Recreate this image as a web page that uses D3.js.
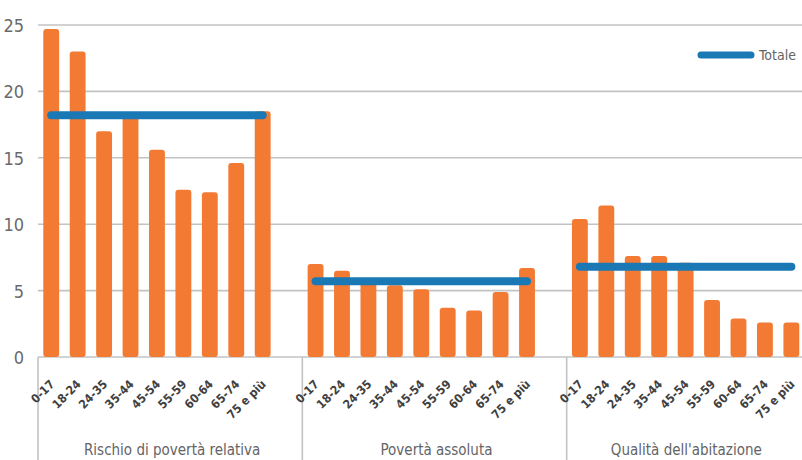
<!DOCTYPE html>
<html>
<head>
<meta charset="utf-8">
<script src="https://cdn.jsdelivr.net/npm/d3@7"></script>
<style>
  html, body { margin: 0; padding: 0; background: #fff; }
  svg { display: block; font-family: "Liberation Sans Narrow", "DejaVu Sans Condensed", sans-serif; }
</style>
</head>
<body>
<div id="chart"></div>
<script>
// --- Data ---
const groups = ["Rischio di povertà relativa", "Povertà assoluta", "Qualità dell'abitazione"];
const ageClasses = ["0-17", "18-24", "24-35", "35-44", "45-54", "55-59", "60-64", "65-74", "75 e più"];
const valuesRelativa = [24.7, 23.0, 17.0, 18.2, 15.6, 12.6, 12.4, 14.6, 18.5];
const valuesAssoluta = [7.0, 6.5, 5.9, 5.4, 5.1, 3.7, 3.5, 4.9, 6.7];
const valuesAbitazione = [10.4, 11.4, 7.6, 7.6, 7.1, 4.3, 2.9, 2.6, 2.6];
const totals = [18.2, 5.7, 6.8];
const yTicks = [0, 5, 10, 15, 20, 25];

const seriesValues = [valuesRelativa, valuesAssoluta, valuesAbitazione];

const width = 802, height = 460;
const margin = { top: 25, left: 38, bottom: 103 };
const plotRight = 831; // the last group runs past the picture edge
const baseY = height - margin.bottom;

const orange = "#f37a32";
const blue = "#1a79b5";
const grid = "#c3c3c3";

const svg = d3.select("#chart").append("svg")
  .attr("width", width)
  .attr("height", height);

// each group: 9 age classes plus one empty slot
const slotKeys = [];
groups.forEach((g, gi) => {
  ageClasses.forEach(a => slotKeys.push(gi + "|" + a));
  slotKeys.push(gi + "|");
});

const xScale = d3.scaleBand()
  .domain(slotKeys)
  .range([margin.left, plotRight])
  .paddingInner(0.4)
  .paddingOuter(0.2);

const yScale = d3.scaleLinear()
  .domain([0, 25])
  .range([baseY, margin.top]);

const bars = [];
seriesValues.forEach((vals, gi) => {
  vals.forEach((v, i) => bars.push({ gi, age: ageClasses[i], value: v }));
});

// --- Grid lines ---
svg.append("g")
  .selectAll("line")
  .data(yTicks)
  .join("line")
  .attr("x1", margin.left)
  .attr("x2", width)
  .attr("y1", d => yScale(d))
  .attr("y2", d => yScale(d))
  .attr("stroke", grid)
  .attr("stroke-width", 1.6);

// --- Y axis labels ---
svg.append("g")
  .attr("transform", `translate(${margin.left - 14},0)`)
  .call(d3.axisLeft(yScale).tickValues(yTicks).tickSize(0).tickPadding(0))
  .call(g => g.select(".domain").remove())
  .call(g => g.selectAll(".tick text")
    .attr("fill", "#6a6a6c")
    .attr("font-size", "18px")
    .attr("font-family", "'Liberation Sans Narrow', 'DejaVu Sans Condensed', sans-serif")
    .attr("dy", "0.36em"));

// --- Group separators ---
const step = xScale.step();
const groupBounds = groups.map((g, gi) => {
  const first = xScale(gi + "|" + ageClasses[0]) + xScale.bandwidth() / 2 - step / 2;
  return [first, first + step * 10];
});

svg.append("g")
  .selectAll("line")
  .data(groupBounds)
  .join("line")
  .attr("x1", d => d[0])
  .attr("x2", d => d[0])
  .attr("y1", baseY)
  .attr("y2", height)
  .attr("stroke", grid)
  .attr("stroke-width", 1.6);

// --- Bars ---
svg.append("g")
  .selectAll("rect")
  .data(bars)
  .join("rect")
  .attr("x", d => xScale(d.gi + "|" + d.age))
  .attr("width", xScale.bandwidth())
  .attr("y", d => yScale(d.value))
  .attr("height", d => yScale(0) - yScale(d.value))
  .attr("rx", 3)
  .attr("fill", orange);

// --- Totale lines ---
svg.append("g")
  .selectAll("line")
  .data(totals)
  .join("line")
  .attr("x1", (d, gi) => xScale(gi + "|" + ageClasses[0]) + xScale.bandwidth() / 2)
  .attr("x2", (d, gi) => xScale(gi + "|" + ageClasses[ageClasses.length - 1]) + xScale.bandwidth() / 2)
  .attr("y1", d => yScale(d))
  .attr("y2", d => yScale(d))
  .attr("stroke", blue)
  .attr("stroke-width", 8)
  .attr("stroke-linecap", "round");

// --- X tick labels ---
svg.append("g")
  .selectAll("text")
  .data(bars)
  .join("text")
  .attr("transform", d => `translate(${xScale(d.gi + "|" + d.age) + xScale.bandwidth() / 2 + 4},${baseY + 28}) rotate(-45)`)
  .attr("text-anchor", "end")
  .attr("fill", "#404040")
  .attr("font-size", "12px")
  .attr("font-weight", "bold")
  .text(d => d.age);

// --- Group labels ---
svg.append("g")
  .selectAll("text")
  .data(groupBounds)
  .join("text")
  .attr("x", d => (d[0] + Math.min(d[1], width)) / 2 + 2)
  .attr("y", height - 5)
  .attr("text-anchor", "middle")
  .attr("fill", "#646466")
  .attr("font-size", "15px")
  .text((d, i) => groups[i]);

// --- Legend ---
const legend = svg.append("g").attr("transform", "translate(701,55)");
legend.append("line")
  .attr("x1", 0).attr("x2", 50)
  .attr("stroke", blue)
  .attr("stroke-width", 7)
  .attr("stroke-linecap", "round");
legend.append("text")
  .attr("x", 58)
  .attr("dy", "0.35em")
  .attr("fill", "#646466")
  .attr("font-size", "14px")
  .text("Totale");
</script>
</body>
</html>
